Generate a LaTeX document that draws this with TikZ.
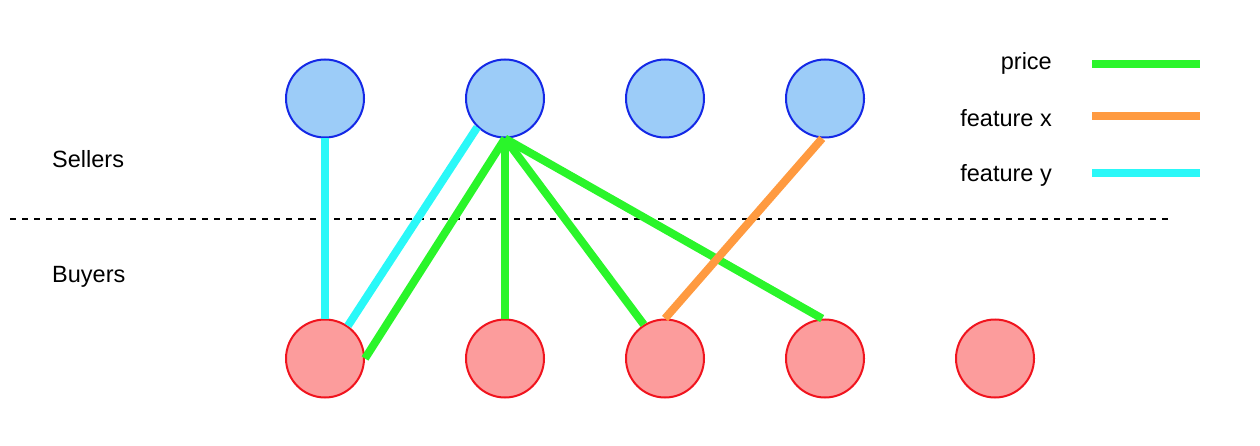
\documentclass[tikz,border=0pt]{standalone}
\usepackage{fontspec}
\setmainfont{Liberation Sans}
\usetikzlibrary{positioning}

\definecolor{sellerfill}{HTML}{9CCCF8}
\definecolor{sellerline}{HTML}{1428E6}
\definecolor{buyerfill}{HTML}{FC9C9C}
\definecolor{buyerline}{HTML}{F0141E}
\definecolor{pricecol}{HTML}{2AF52A}
\definecolor{featxcol}{HTML}{FF9A40}
\definecolor{featycol}{HTML}{2AF8F8}

\tikzset{
	every node/.style = {font=\fontsize{23.5}{28}\selectfont}
}
\tikzset{
	seller/.style = {circle, draw=sellerline, fill=sellerfill, line width=2pt, minimum size=78pt, inner sep=0pt},
	buyer/.style = {circle, draw=buyerline, fill=buyerfill, line width=2pt, minimum size=78pt, inner sep=0pt},
	label text/.style = {inner sep=0pt},
	price/.style = {draw=pricecol, line width=8pt},
	featx/.style = {draw=featxcol, line width=8pt},
	featy/.style = {draw=featycol, line width=8pt}
}

\begin{document}
\begin{tikzpicture}[x=1pt,y=-1pt]
        \useasboundingbox (0,0) rectangle (1260,446);

        % Group labels and the line between them
        \node[label text, anchor=west] (sellers) at (52,159) {Sellers};
        \node[label text, anchor=west] (buyers) at (52,277) {Buyers};
        \coordinate (sepL) at (10,219);
        \coordinate (sepR) at (1170,219);
        \draw[line width=2pt, dash pattern=on 6pt off 6pt] (sepL) -- (sepR);

        % Sellers on the top row, buyers on the bottom row
        \foreach \x [count=\i] in {325,505,665,825}
            \node[seller] (s\i) at (\x,98.5) {};
        \foreach \x [count=\i] in {325,505,665,825,995}
            \node[buyer] (b\i) at (\x,358.5) {};

        % Links between sellers and buyers
        \draw[featy] (s1.south) -- (b1.north);
        \draw[featy] (s2.226) -- (b1.55);
        \draw[price] (s2.south) -- (b1.east);
        \draw[price] (s2.south) -- (b2.north);
        \draw[price] (s2.south) -- (b3.122);
        \draw[price] (s2.south) -- (b4.94);
        \draw[featx] (s4.266) -- (b3.north);

        % Legend
        \node[label text, anchor=east] (lprice) at (1052,63) {price};
        \node[label text, anchor=east] (lfeatx) at (1052,118) {feature x};
        \node[label text, anchor=east] (lfeaty) at (1052,175) {feature y};
        \coordinate (pA) at (1092,64);   \coordinate (pB) at (1200,64);
        \coordinate (xA) at (1092,116);  \coordinate (xB) at (1200,116);
        \coordinate (yA) at (1092,173);  \coordinate (yB) at (1200,173);
        \draw[price] (pA) -- (pB);
        \draw[featx] (xA) -- (xB);
        \draw[featy] (yA) -- (yB);
\end{tikzpicture}
\end{document}
